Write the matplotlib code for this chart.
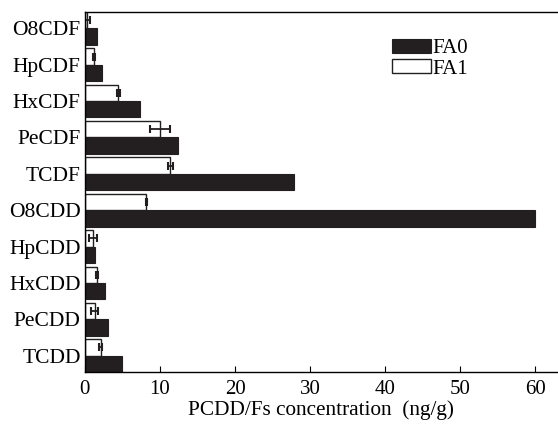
import numpy as np
import matplotlib
matplotlib.use('Agg')
import matplotlib.pyplot as plt

plt.rcParams['font.family'] = ['Liberation Serif', 'DejaVu Serif']

congeners = ['TCDD', 'PeCDD', 'HxCDD', 'HpCDD', 'O8CDD',
             'TCDF', 'PeCDF', 'HxCDF', 'HpCDF', 'O8CDF']
fa0 = [4.9, 3.1, 2.7, 1.3, 59.9, 27.8, 12.4, 7.3, 2.3, 1.6]
fa1 = [2.1, 1.3, 1.65, 1.07, 8.2, 11.4, 10.0, 4.45, 1.2, 0.3]
fa1_err = [0.15, 0.5, 0.15, 0.55, 0.1, 0.35, 1.3, 0.2, 0.15, 0.4]

y = np.arange(len(congeners))
h = 0.45

fig = plt.figure(figsize=(5.58, 4.25), dpi=100)
ax = fig.add_axes([0.152, 0.1247, 0.848, 0.8471])

ax.barh(y - h/2, fa0, height=h, color='#231f20', edgecolor='#231f20', lw=0.8, label='FA0')
ax.barh(y + h/2, fa1, height=h, color='white', edgecolor='#231f20', lw=1.0, label='FA1')
ax.errorbar(fa1, y + h/2, xerr=fa1_err, fmt='none', ecolor='#231f20',
            elinewidth=1.3, capsize=3, capthick=1.5)

ax.set_xlim(0, 63)
ax.set_ylim(-h, len(congeners) - 1 + h)
ax.set_yticks(y)
ax.set_yticklabels(congeners, fontsize=15.5)
ax.set_xticks(range(0, 61, 10))
ax.tick_params(axis='x', direction='in', length=4, labelsize=15, pad=6)
ax.tick_params(axis='y', length=0, pad=3)
ax.spines['right'].set_visible(False)
for s in ['left', 'top', 'bottom']:
    ax.spines[s].set_linewidth(1.0)
ax.set_xlabel('PCDD/Fs concentration  (ng/g)', fontsize=15.3, labelpad=1)

ax.legend(loc='upper left', bbox_to_anchor=(0.65, 0.925), frameon=False,
          fontsize=15, borderpad=0, borderaxespad=0, handlelength=1.85,
          handleheight=0.65, handletextpad=0.05, labelspacing=0.05)

fig.savefig('out.png', dpi=100)
